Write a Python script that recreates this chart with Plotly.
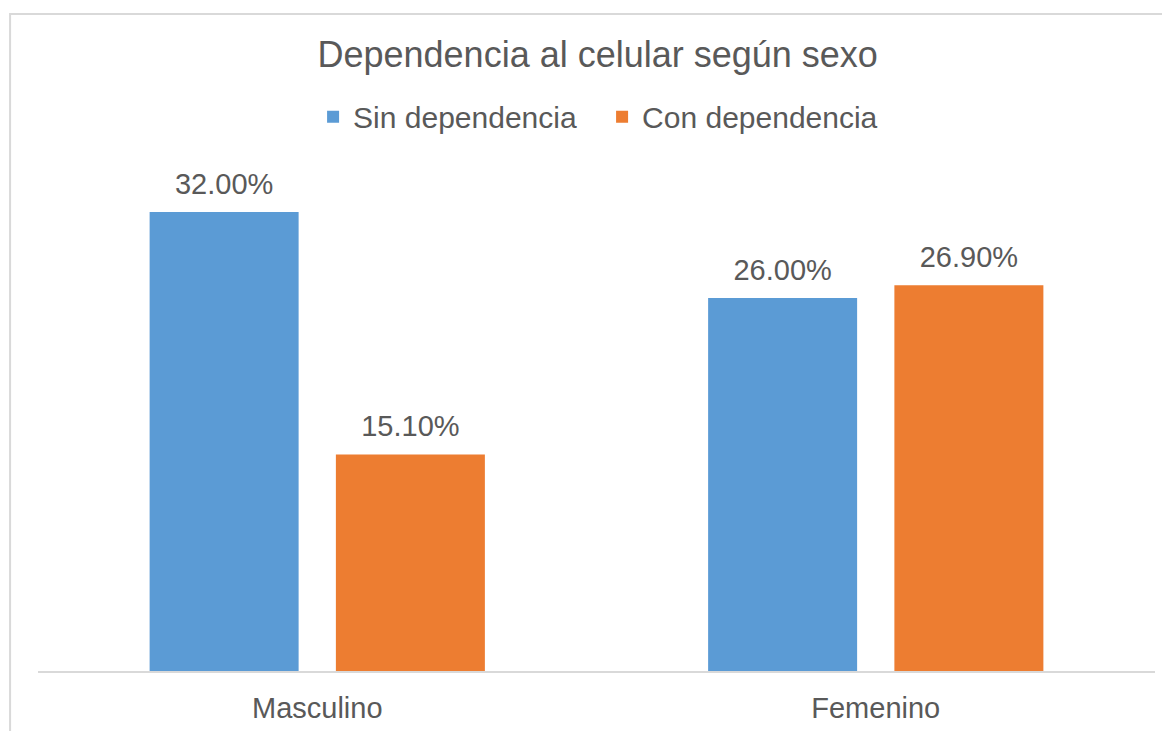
import plotly.graph_objects as go

# datos del grafico
categorias = ["Masculino", "Femenino"]
sin_dependencia = [0.32, 0.26]
con_dependencia = [0.151, 0.269]
series = ["Sin dependencia", "Con dependencia"]
colores = ["#5b9bd5", "#ed7d31"]

gris = "#595959"
fuente = "Liberation Sans, Arial, sans-serif"

fig = go.Figure()
for i, (nombre, valores, color) in enumerate(zip(series, [sin_dependencia, con_dependencia], colores)):
    fig.add_trace(go.Bar(
        x=categorias, y=valores, name=nombre, offsetgroup=str(i),
        marker=dict(color=color, line=dict(width=0)),
    ))
# etiquetas de datos como scatter agrupado, para dejar un poco mas de aire
for i, valores in enumerate([sin_dependencia, con_dependencia]):
    fig.add_trace(go.Scatter(
        x=categorias, y=valores, offsetgroup=str(i), mode="markers+text",
        marker=dict(size=16, opacity=0), showlegend=False, hoverinfo="skip",
        texttemplate="%{y:.2%}", textposition="top center",
        textfont=dict(size=29, color=gris, family=fuente),
        cliponaxis=False,
    ))

# la pagina tiene 8px de margen en el body, se compensa aqui
fig.update_layout(
    width=1170, height=731,
    paper_bgcolor="white", plot_bgcolor="white",
    margin=dict(l=30, r=23, t=161, b=68),
    barmode="group", bargap=0.333, bargroupgap=0.2,
    scattermode="group", scattergap=0.333,
    font=dict(family=fuente, color=gris),
    title=dict(text="Dependencia al celular según sexo", x=0.504, xanchor="center",
               y=0.936, yanchor="middle", font=dict(size=36, color=gris)),
    legend=dict(orientation="h", x=0.505, xanchor="center", y=1.104, yanchor="middle",
                font=dict(size=30, color=gris), itemwidth=30, traceorder="normal",
                entrywidth=244),
    showlegend=True,
)
fig.update_xaxes(showline=True, linecolor="#d9d9d9", linewidth=2, ticks="",
                 tickfont=dict(size=29, color=gris), showgrid=False,
                 ticklabelstandoff=10)
fig.update_yaxes(range=[0, 0.35], visible=False, showgrid=False, zeroline=False)

# borde del area del grafico
fig.add_shape(type="rect", xref="paper", yref="paper",
              x0=-0.025, x1=1.05, y0=-0.2, y1=1.309,
              line=dict(color="#d9d9d9", width=2), layer="below")

fig.write_html("out.html")
